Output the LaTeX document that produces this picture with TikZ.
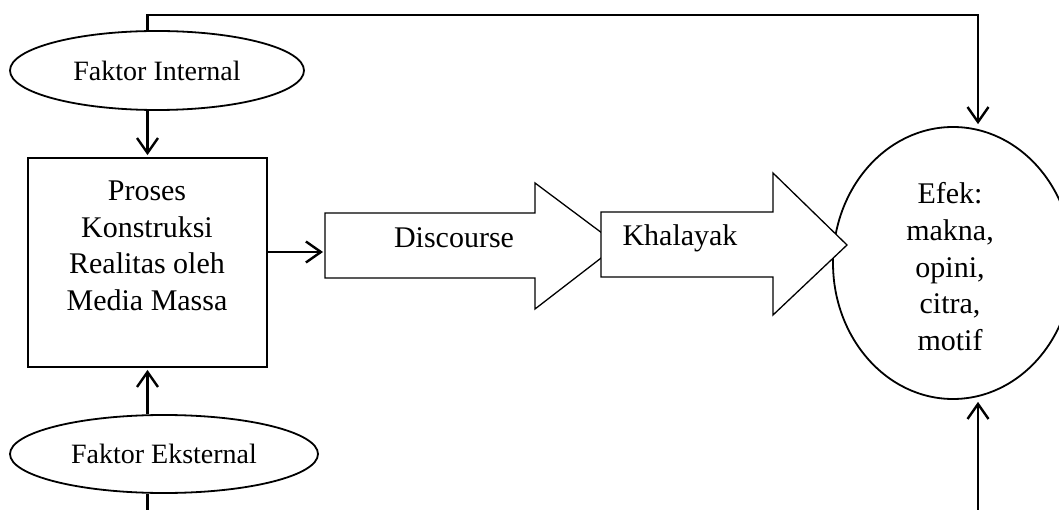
\documentclass[tikz,border=0pt]{standalone}
\usepackage{fontspec}
\setmainfont{Liberation Serif}
\usetikzlibrary{arrows.meta,shapes.geometric}
\begin{document}
\begin{tikzpicture}[x=1pt,y=-1pt,
  txt/.style={font=\fontsize{30}{36.7}\selectfont, inner sep=0pt, align=center},
  conn/.style={line width=2.4pt, shorten >=2pt, -{Straight Barb[length=15pt,width=21pt,line width=2.4pt]}},
  oval/.style={draw, ellipse, line width=1.8pt, inner sep=0pt, font=\fontsize{28}{34}\selectfont},
  boxst/.style={draw, rectangle, line width=1.8pt, inner sep=0pt},
  blk/.style={draw, fill=white, line width=1.3pt, line join=miter}]
\useasboundingbox (0,0) rectangle (1059,510);
\fill[white] (0,0) rectangle (1059,510);
% ellipses and box
\node[oval, minimum width=294pt, minimum height=79pt] (fi) at (157,70.5) {Faktor Internal};
\node[oval, minimum width=308pt, minimum height=78pt] (fe) at (164,454) {Faktor Eksternal};
\node[boxst, minimum width=239pt, minimum height=209pt] (box) at (147.5,262.5) {};
\node[txt, anchor=north] (boxtext) at (147,180.5) {Proses\\Konstruksi\\Realitas oleh\\Media Massa};
\node[draw, ellipse, line width=1.8pt, inner sep=0pt, minimum width=240pt, minimum height=272pt] (efek) at (953,263) {};
% block arrows
\draw[blk] (325,213) -- (535,213) -- (535,183) -- (618,245) -- (535,309) -- (535,278) -- (325,278) -- cycle;
\node[txt, anchor=base] (disc) at (454,248) {Discourse};
\draw[blk] (601,212) -- (773,212) -- (773,173) -- (847,245) -- (773,315) -- (773,277) -- (601,277) -- cycle;
\node[txt, anchor=base] (khal) at (680,246) {Khalayak};
\node[txt, anchor=north] (efektext) at (950,182.5) {Efek:\\makna,\\opini,\\citra,\\motif};
% connectors
\coordinate (discin) at (325,252);
\draw[conn] (fi.south -| box.north) -- (box.north);
\draw[conn] (fe.north -| box.south) -- (box.south);
\draw[conn] (box.east |- discin) -- (discin);
\draw[conn] (fi.north -| box.north) |- (978,15) -- ([xshift=25pt]efek.north);
\draw[conn] (fe.south -| box.south) -- (147.5,525) -| ([xshift=25pt]efek.south);
\end{tikzpicture}
\end{document}
